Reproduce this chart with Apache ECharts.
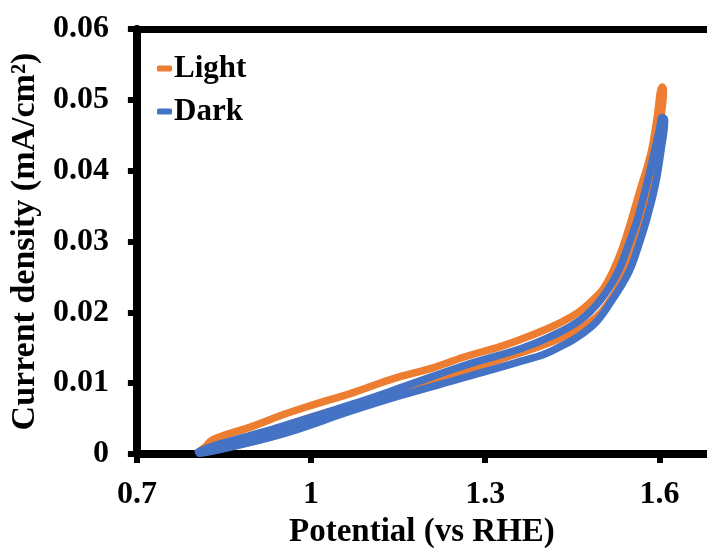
<!DOCTYPE html>
<html>
<head>
<meta charset="utf-8">
<script src="https://cdn.jsdelivr.net/npm/echarts@6/dist/echarts.min.js"></script>
<style>html,body{margin:0;padding:0;background:#fff}#c{width:707px;height:554px}</style>
</head>
<body>
<div id="c"></div>
<script>
// Light: forward (upper) branch and return branch
var lightForwardV = [0.808,0.818,0.830,0.899,0.950,1.002,1.070,1.122,1.156,1.207,1.264,1.327,1.362,1.413,1.447,1.470,1.490,1.504,1.519,1.537,1.552,1.567,1.585,1.595,1.605];
var lightForwardJ = [0.0004,0.0010,0.0020,0.0039,0.0055,0.0069,0.0086,0.0101,0.0110,0.0121,0.0137,0.0152,0.0162,0.0179,0.0193,0.0206,0.0221,0.0234,0.0256,0.0292,0.0331,0.0373,0.0423,0.0469,0.0518];
var lightReturnV = [1.607,1.602,1.593,1.581,1.569,1.554,1.540,1.516,1.482,1.413,1.327,1.264,1.156,1.087,0.985,0.899,0.830,0.808];
var lightReturnJ = [0.0514,0.0472,0.0423,0.0373,0.0331,0.0289,0.0256,0.0218,0.0187,0.0158,0.0134,0.0117,0.0090,0.0073,0.0048,0.0025,0.0008,0.0003];
// Dark: forward and return branch
var darkForwardV = [0.806,0.830,0.899,0.950,1.070,1.156,1.264,1.362,1.413,1.465,1.499,1.528,1.547,1.562,1.578,1.591,1.600,1.605];
var darkForwardJ = [0.0003,0.0011,0.0027,0.0039,0.0070,0.0094,0.0125,0.0149,0.0166,0.0190,0.0218,0.0256,0.0296,0.0331,0.0380,0.0425,0.0458,0.0475];
var darkReturnV = [1.609,1.603,1.593,1.578,1.562,1.547,1.519,1.482,1.413,1.362,1.264,1.156,1.070,0.950,0.830,0.808];
var darkReturnJ = [0.0472,0.0430,0.0380,0.0331,0.0289,0.0256,0.0218,0.0179,0.0145,0.0131,0.0108,0.0083,0.0061,0.0028,0.0004,0.0001];

var xTicks = [0.7, 1, 1.3, 1.6];
var seriesNames = ['Light', 'Dark'];

function pairs(v, j) { return v.map(function (x, i) { return [x, j[i]]; }); }
var lightData = pairs(lightForwardV, lightForwardJ).concat(pairs(lightReturnV, lightReturnJ));
var darkData = pairs(darkForwardV, darkForwardJ).concat(pairs(darkReturnV, darkReturnJ));

var FONT = "'Liberation Serif', 'Times New Roman', serif";
var chart = echarts.init(document.getElementById('c'), null, {renderer: 'canvas'});
chart.setOption({
  animation: false,
  backgroundColor: '#fff',
  grid: {left: 134, top: 29, right: 0, bottom: 99, containLabel: false},
  legend: {
    orient: 'vertical', left: 152, top: 48, itemGap: 12,
    itemWidth: 15, itemHeight: 6,
    data: [{name: seriesNames[0], icon: 'roundRect'}, {name: seriesNames[1], icon: 'roundRect'}],
    textStyle: {fontFamily: FONT, fontWeight: 'bold', fontSize: 31, color: '#000', padding: [0,0,0,-3]}
  },
  xAxis: [{
    type: 'value', min: 0.7, max: 1.682,
    name: 'Potential (vs RHE)', nameLocation: 'middle', nameGap: 62,
    nameTextStyle: {fontFamily: FONT, fontWeight: 'bold', fontSize: 33, color: '#000'},
    axisLine: {show: true, onZero: false, lineStyle: {color: '#000', width: 8}},
    axisTick: {show: true, customValues: xTicks, length: 9, lineStyle: {color: '#000', width: 6}},
    axisLabel: {customValues: xTicks, margin: 25, fontFamily: FONT, fontWeight: 'bold', fontSize: 32, color: '#000',
      formatter: function (v) { return String(+v.toFixed(2)); }},
    splitLine: {show: false}
  }, {
    type: 'value', position: 'top', min: 0.7, max: 1.682,
    axisLine: {show: true, onZero: false, lineStyle: {color: '#000', width: 7}},
    axisTick: {show: false}, axisLabel: {show: false}, splitLine: {show: false}
  }],
  yAxis: {
    type: 'value', min: 0, max: 0.06, interval: 0.01,
    name: 'Current density (mA/cm²)', nameLocation: 'middle', nameGap: 87,
    nameTextStyle: {fontFamily: FONT, fontWeight: 'bold', fontSize: 34, color: '#000'},
    axisLine: {show: true, lineStyle: {color: '#000', width: 8}},
    axisTick: {show: true, length: 9, lineStyle: {color: '#000', width: 6}},
    axisLabel: {margin: 28, fontFamily: FONT, fontWeight: 'bold', fontSize: 32, color: '#000',
      formatter: function (v) { return v === 0 ? '0' : v.toFixed(2); }},
    splitLine: {show: false}
  },
  series: [{
    name: seriesNames[0], type: 'line', data: lightData, showSymbol: false, smooth: 0.4,
    color: '#ED7D31', lineStyle: {width: 7.5, color: '#ED7D31', cap: 'round', join: 'round'}
  }, {
    name: seriesNames[1], type: 'line', data: darkData, showSymbol: false, smooth: 0.4,
    color: '#4472C4', lineStyle: {width: 7.5, color: '#4472C4', cap: 'round', join: 'round'}
  }]
});
</script>
</body>
</html>
